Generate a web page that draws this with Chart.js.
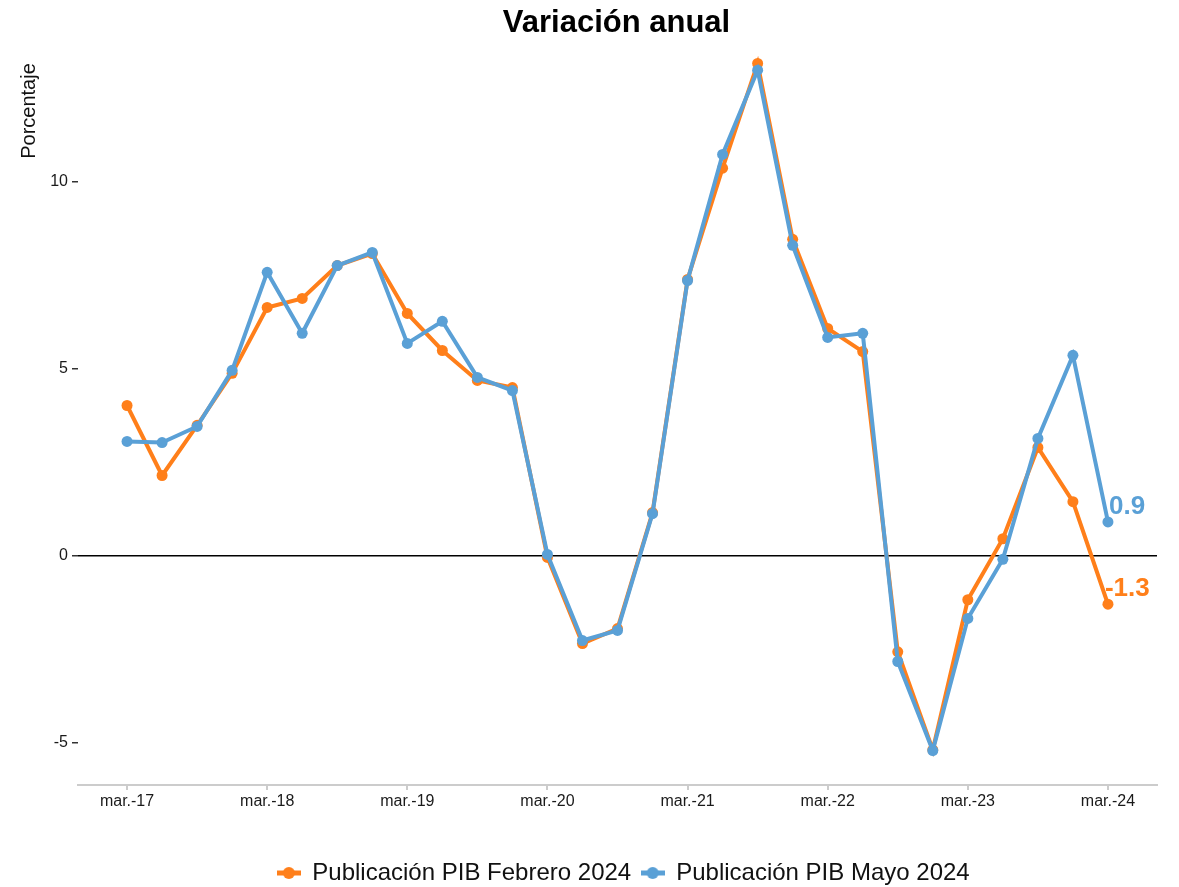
<!DOCTYPE html>
<html>
<head>
<meta charset="utf-8">
<script src="https://cdn.jsdelivr.net/npm/chart.js@4.4.1/dist/chart.umd.min.js"></script>
<style>
    html, body { margin: 0; padding: 0; background: #ffffff; }
    #wrap { width: 1179px; height: 887px; }
</style>
</head>
<body>
<div id="wrap"><canvas id="chart" width="1179" height="887"></canvas></div>
<script>
// Trimestres (categorías)
const trimestres = [
    'mar.-17', 'jun.-17', 'sep.-17', 'dic.-17',
    'mar.-18', 'jun.-18', 'sep.-18', 'dic.-18',
    'mar.-19', 'jun.-19', 'sep.-19', 'dic.-19',
    'mar.-20', 'jun.-20', 'sep.-20', 'dic.-20',
    'mar.-21', 'jun.-21', 'sep.-21', 'dic.-21',
    'mar.-22', 'jun.-22', 'sep.-22', 'dic.-22',
    'mar.-23', 'jun.-23', 'sep.-23', 'dic.-23',
    'mar.-24'
];

// Variación anual (%) - publicación febrero 2024
const pibFebrero = [4.01, 2.14, 3.48, 4.87, 6.63, 6.87, 7.75, 8.07, 6.47, 5.48, 4.68, 4.49,
    -0.05, -2.35, -1.95, 1.15, 7.38, 10.35, 13.15, 8.45, 6.07, 5.45, -2.57, -5.19,
    -1.18, 0.45, 2.89, 1.44, -1.3];

// Variación anual (%) - publicación mayo 2024
const pibMayo = [3.05, 3.02, 3.45, 4.95, 7.57, 5.94, 7.75, 8.10, 5.67, 6.26, 4.76, 4.41,
    0.03, -2.27, -2.0, 1.12, 7.35, 10.72, 12.97, 8.29, 5.83, 5.94, -2.83, -5.21,
    -1.68, -0.1, 3.13, 5.35, 0.9];

const yTicks = [-5, 0, 5, 10];
const seriesNames = ['Publicación PIB Febrero 2024', 'Publicación PIB Mayo 2024'];

const ORANGE = '#ff7f1a';
const BLUE = '#5aa0d6';
const FONT = '"Liberation Sans", Arial, sans-serif';

function toPoints(values) {
    return values.map((v, i) => ({ x: i, y: v }));
}

// legend marker: short line with a dot in the middle
function legendMarker(color) {
    const c = document.createElement('canvas');
    c.width = 24;
    c.height = 14;
    const g = c.getContext('2d');
    g.strokeStyle = color;
    g.lineWidth = 5;
    g.beginPath();
    g.moveTo(0, 7);
    g.lineTo(24, 7);
    g.stroke();
    g.fillStyle = color;
    g.beginPath();
    g.arc(12, 7, 6, 0, Math.PI * 2);
    g.fill();
    return c;
}

// move the legend box to where the reference has it
const legendShift = {
    id: 'legendShift',
    afterLayout(chart) {
        const lg = chart.legend;
        if (!lg) return;
        const dx = 45, dy = 8;
        lg.left += dx;
        lg.right += dx;
        lg.top += dy;
        lg.bottom += dy;
    }
};

const decorations = {
    id: 'decorations',
    afterDraw(chart) {
        const ctx = chart.ctx;
        const area = chart.chartArea;
        ctx.save();

        // title
        ctx.fillStyle = '#000';
        ctx.font = 'bold 31px ' + FONT;
        ctx.textAlign = 'center';
        ctx.textBaseline = 'middle';
        ctx.fillText('Variación anual', (area.left + area.right) / 2 - 1, 23);

        // y axis title
        ctx.save();
        ctx.translate(29, 111);
        ctx.rotate(-Math.PI / 2);
        ctx.font = '20px ' + FONT;
        ctx.fillStyle = '#111';
        ctx.fillText('Porcentaje', 0, 0);
        ctx.restore();

        // last value labels
        ctx.font = 'bold 26px ' + FONT;
        ctx.textAlign = 'left';
        ctx.textBaseline = 'middle';
        chart.data.datasets.forEach((ds, i) => {
            const meta = chart.getDatasetMeta(i);
            const last = meta.data[meta.data.length - 1];
            const value = ds.data[ds.data.length - 1].y;
            const nudge = value < 0 ? -3 : 1;
            ctx.fillStyle = ds.borderColor;
            ctx.fillText(value.toFixed(1), last.x + nudge, last.y - 15);
        });
        ctx.restore();
    }
};

new Chart(document.getElementById('chart'), {
    type: 'line',
    data: {
        datasets: [
            {
                label: seriesNames[0],
                data: toPoints(pibFebrero),
                borderColor: ORANGE,
                backgroundColor: ORANGE,
                borderWidth: 4,
                pointRadius: 5.5,
                pointBorderWidth: 0,
                tension: 0,
                order: 1
            },
            {
                label: seriesNames[1],
                data: toPoints(pibMayo),
                borderColor: BLUE,
                backgroundColor: BLUE,
                borderWidth: 4,
                pointRadius: 5.5,
                pointBorderWidth: 0,
                tension: 0,
                order: 0
            }
        ]
    },
    options: {
        responsive: false,
        animation: false,
        layout: { padding: { top: 29, right: 22, left: 0, bottom: 0 } },
        plugins: {
            tooltip: { enabled: false },
            title: { display: false },
            legend: {
                position: 'bottom',
                labels: {
                    font: { family: FONT, size: 24 },
                    color: '#111',
                    usePointStyle: true,
                    pointStyleWidth: 23,
                    padding: 10,
                    sort: (a, b) => a.datasetIndex - b.datasetIndex,
                    generateLabels(chart) {
                        return chart.data.datasets.map((ds, i) => ({
                            text: ds.label,
                            fillStyle: ds.borderColor,
                            strokeStyle: ds.borderColor,
                            fontColor: '#111',
                            lineWidth: 0,
                            pointStyle: legendMarker(ds.borderColor),
                            hidden: false,
                            datasetIndex: i
                        }));
                    }
                }
            }
        },
        scales: {
            x: {
                type: 'linear',
                min: -1.4,
                max: 29.4,
                afterBuildTicks(scale) {
                    scale.ticks = trimestres
                        .map((t, i) => ({ value: i }))
                        .filter(t => t.value % 4 === 0);
                },
                afterFit(scale) { scale.height = 58; },
                border: { display: true, color: '#cccccc', width: 2 },
                grid: { drawOnChartArea: false, tickColor: '#cccccc', tickLength: 5, lineWidth: 2 },
                ticks: {
                    font: { family: FONT, size: 16 },
                    color: '#1a1a1a',
                    padding: 2,
                    maxRotation: 0,
                    autoSkip: false,
                    callback: (value) => trimestres[value]
                }
            },
            y: {
                min: -6.13,
                max: 14.07,
                afterBuildTicks(scale) {
                    scale.ticks = yTicks.map(v => ({ value: v }));
                },
                afterFit(scale) { scale.width = 78; },
                border: { display: false },
                grid: {
                    color: (c) => (c.tick && c.tick.value === 0 ? '#000000' : 'rgba(0,0,0,0)'),
                    lineWidth: 1.5,
                    tickColor: '#333333',
                    tickLength: 6,
                    drawTicks: true
                },
                ticks: {
                    font: { family: FONT, size: 16 },
                    color: '#1a1a1a',
                    padding: 4
                }
            }
        }
    },
    plugins: [legendShift, decorations]
});
</script>
</body>
</html>
